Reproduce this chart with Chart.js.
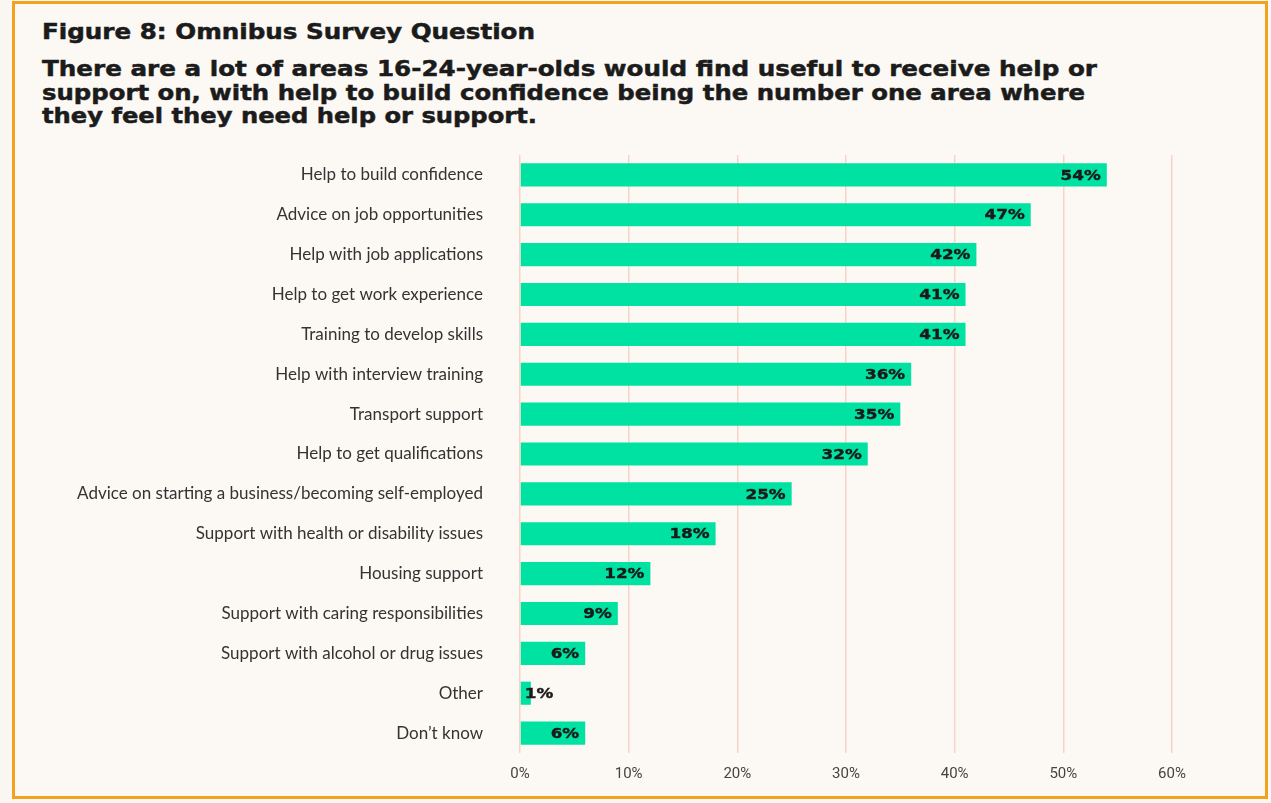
<!DOCTYPE html>
<html>
<head>
<meta charset="utf-8">
<script src="https://cdn.jsdelivr.net/npm/chart.js@4.4.1/dist/chart.umd.min.js"></script>
<style>
  html, body { margin: 0; padding: 0; background: #FAF7F2; }
  body { width: 1271px; height: 803px; position: relative; overflow: hidden; }
  #frame {
    position: absolute; left: 12px; top: 1px;
    width: 1250px; height: 792px;
    border: 3px solid #F3A21C; background: #FCF9F4;
  }
  .head {
    position: absolute; left: 42px; margin: 0;
    font-family: "DejaVu Sans", sans-serif; font-weight: bold;
    color: #1B1B1B; white-space: nowrap; transform-origin: 0 0;
    -webkit-text-stroke: 0.5px #1B1B1B;
  }
  #fig { top: 19px; font-size: 20.5px; line-height: 26px; }
  .sub { font-size: 21.5px; line-height: 24px; }
  #s1 { top: 57px; }
  #s2 { top: 81px; }
  #s3 { top: 104px; }
  #chart { position: absolute; left: 0; top: 0; }
</style>
</head>
<body>
<div id="frame"></div>
<div class="head" id="fig" data-w="493">Figure 8: Omnibus Survey Question</div>
<div class="head sub" id="s1" data-w="1055">There are a lot of areas 16-24-year-olds would find useful to receive help or</div>
<div class="head sub" id="s2" data-w="1043">support on, with help to build confidence being the number one area where</div>
<div class="head sub" id="s3" data-w="495">they feel they need help or support.</div>
<canvas id="chart" width="1271" height="803"></canvas>
<script>
// Survey answers, share of 16-24-year-olds (%)
const categories = [
  "Help to build confidence",
  "Advice on job opportunities",
  "Help with job applications",
  "Help to get work experience",
  "Training to develop skills",
  "Help with interview training",
  "Transport support",
  "Help to get qualifications",
  "Advice on starting a business/becoming self-employed",
  "Support with health or disability issues",
  "Housing support",
  "Support with caring responsibilities",
  "Support with alcohol or drug issues",
  "Other",
  "Don\u2019t know"
];
const shares = [54, 47, 42, 41, 41, 36, 35, 32, 25, 18, 12, 9, 6, 1, 6];
const tickValues = [0, 10, 20, 30, 40, 50, 60];

// Stretch the heavy heading lines to their set widths (wide display face)
document.querySelectorAll('.head').forEach(el => {
  const target = parseFloat(el.dataset.w);
  const natural = el.getBoundingClientRect().width;
  el.style.transform = 'scaleX(' + (target / natural) + ')';
});

const LABEL_FONT = 'bold 14px "DejaVu Sans", sans-serif';
const LABEL_STRETCH = 1.2;

// Value labels drawn at the end of each bar
const valueLabels = {
  id: 'valueLabels',
  afterDatasetsDraw(chart) {
    const ctx = chart.ctx;
    const meta = chart.getDatasetMeta(0);
    ctx.save();
    ctx.font = LABEL_FONT;
    ctx.fillStyle = '#1A1A1A';
    ctx.strokeStyle = '#1A1A1A';
    ctx.lineWidth = 0.4;
    ctx.textBaseline = 'middle';
    meta.data.forEach((bar, i) => {
      const text = shares[i] + '%';
      const w = ctx.measureText(text).width * LABEL_STRETCH;
      const len = bar.x - bar.base;
      const left = (len > w + 10) ? bar.x - 6 - w : bar.base + 4;
      ctx.save();
      ctx.translate(left, bar.y + 1);
      ctx.scale(LABEL_STRETCH, 1);
      ctx.textAlign = 'left';
      ctx.fillText(text, 0, 0);
      ctx.strokeText(text, 0, 0);
      ctx.restore();
    });
    ctx.restore();
  }
};

new Chart(document.getElementById('chart'), {
  type: 'bar',
  data: {
    labels: categories,
    datasets: [{
      data: shares,
      backgroundColor: '#00E2A1',
      borderWidth: 0,
      barPercentage: 0.58,
      categoryPercentage: 1.0
    }]
  },
  options: {
    indexAxis: 'y',
    responsive: false,
    animation: false,
    devicePixelRatio: 1,
    layout: { padding: { top: 155, bottom: 8, left: 0, right: 99 } },
    plugins: { legend: { display: false }, tooltip: { enabled: false } },
    scales: {
      x: {
        min: 0, max: 60,
        afterBuildTicks(scale) { scale.ticks = tickValues.map(v => ({ value: v })); },
        ticks: {
          callback: v => v + '%',
          color: '#444',
          font: { family: '"Liberation Sans Narrow", "Roboto", sans-serif', size: 15 },
          padding: 12,
          maxRotation: 0
        },
        grid: { color: '#F8D3C8', lineWidth: 1.5, drawTicks: false },
        border: { display: false }
      },
      y: {
        afterFit(scale) { scale.width = 520; },
        ticks: {
          color: '#333',
          font: { family: 'Lato, "Open Sans", sans-serif', size: 17 },
          padding: 29
        },
        grid: { display: false },
        border: { display: false }
      }
    }
  },
  plugins: [valueLabels]
});
</script>
</body>
</html>
